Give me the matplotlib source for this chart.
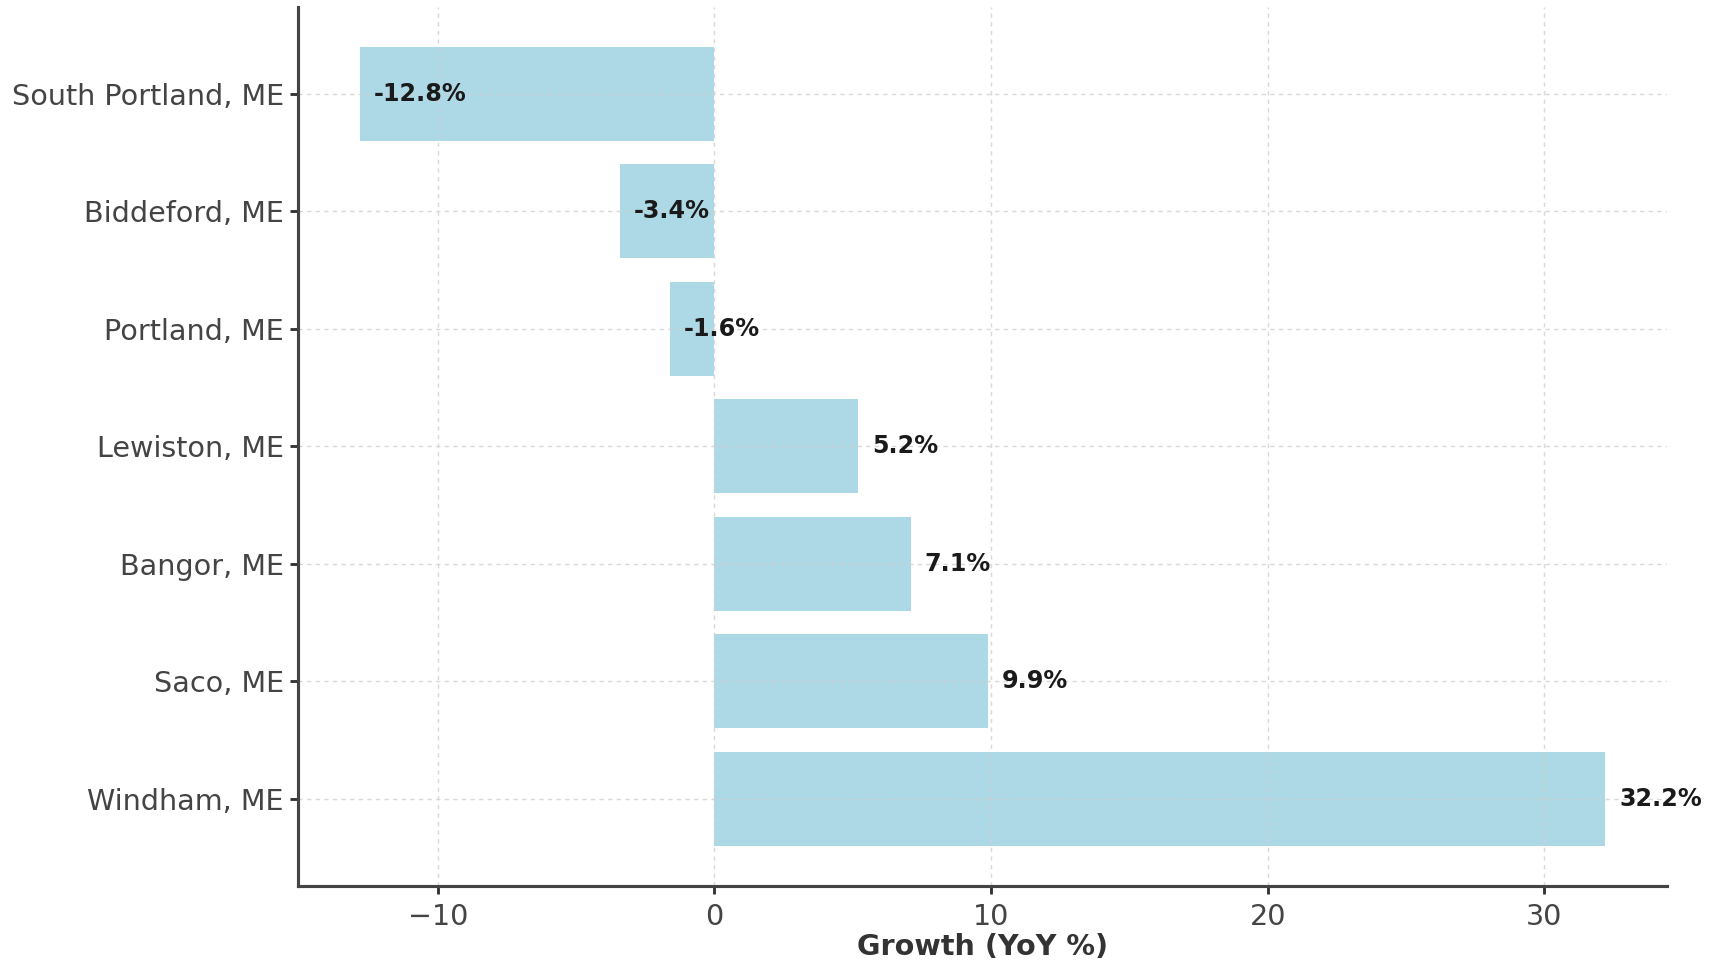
import matplotlib
matplotlib.use("Agg")
import matplotlib.pyplot as plt

# data, bottom to top as drawn
cities = ["Windham, ME", "Saco, ME", "Bangor, ME", "Lewiston, ME",
          "Portland, ME", "Biddeford, ME", "South Portland, ME"]
growth = [32.2, 9.9, 7.1, 5.2, -1.6, -3.4, -12.8]

plt.rcParams["font.family"] = ["DejaVu Sans"]

fig = plt.figure(figsize=(1719 / 172, 964 / 172), dpi=172)
ax = fig.add_axes([0.1734, 0.081, 0.7966, 0.912])

ax.barh(cities, growth, color="#add8e6", height=0.8)
for i, v in enumerate(growth):
    ax.text(v + 0.5, i, f"{v}%", ha="left", va="center",
            fontsize=10, fontweight="bold", color="#1a1a1a")

ax.grid(True, linestyle=(0, (3, 3)), linewidth=0.6, color="#d0d0d0", alpha=0.8)
ax.set_xlabel("Growth (YoY %)", fontsize=12, fontweight="bold", color="#333333",
              labelpad=1)
ax.tick_params(axis="both", labelsize=12, colors="#333333", labelcolor="#444444",
               length=3.5, width=1.2)
ax.tick_params(axis="y", pad=2.5)
for side in ["top", "right"]:
    ax.spines[side].set_visible(False)
for side in ["left", "bottom"]:
    ax.spines[side].set_color("#444444")
    ax.spines[side].set_linewidth(1.3)

fig.savefig("out.png", dpi=172)
